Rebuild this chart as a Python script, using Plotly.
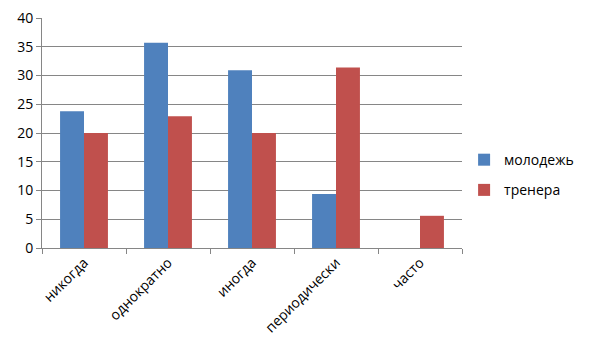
import plotly.graph_objects as go

categories = ["никогда", "однократно", "иногда", "периодически", "часто"]
molodezh = [23.8, 35.7, 30.9, 9.4, None]
trenera = [20, 22.9, 20, 31.4, 5.6]
y_ticks = [0, 5, 10, 15, 20, 25, 30, 35, 40]

FONT = "Open Sans, Liberation Sans, Arial"

fig = go.Figure()
fig.add_trace(go.Bar(x=categories, y=molodezh, name="молодежь",
                     marker=dict(color="#4F81BD", line=dict(width=0)),
                     legendgroup="a"))
fig.add_trace(go.Bar(x=categories, y=trenera, name="тренера",
                     marker=dict(color="#C0504D", line=dict(width=0)),
                     legendgroup="b"))

fig.update_layout(
    width=591, height=354,
    margin=dict(l=42, r=129, t=18, b=106, autoexpand=False),
    paper_bgcolor="white", plot_bgcolor="white",
    barmode="group", bargap=0.43, bargroupgap=0,
    font=dict(family=FONT, size=13, color="#000000"),
    showlegend=True,
    legend=dict(x=1.005, y=0.317, xanchor="left", yanchor="middle",
                font=dict(size=14, family=FONT), traceorder="grouped",
                tracegroupgap=9, itemwidth=30, bgcolor="rgba(0,0,0,0)"),
    xaxis=dict(type="category", showgrid=False, showline=True,
               linecolor="#868686", linewidth=1, ticks="outside",
               tickson="boundaries", ticklen=5, tickcolor="#868686",
               tickangle=-45, tickfont=dict(size=14, family=FONT),
               range=[-0.5, 4.5], automargin=False),
    yaxis=dict(range=[0, 40], tickvals=y_ticks, showgrid=True,
               gridcolor="#868686", gridwidth=1, showline=True,
               linecolor="#868686", linewidth=1, ticks="outside",
               ticklen=5, tickcolor="#868686", zeroline=False,
               tickfont=dict(size=14, family=FONT), automargin=False),
)

fig.write_html("out.html")
